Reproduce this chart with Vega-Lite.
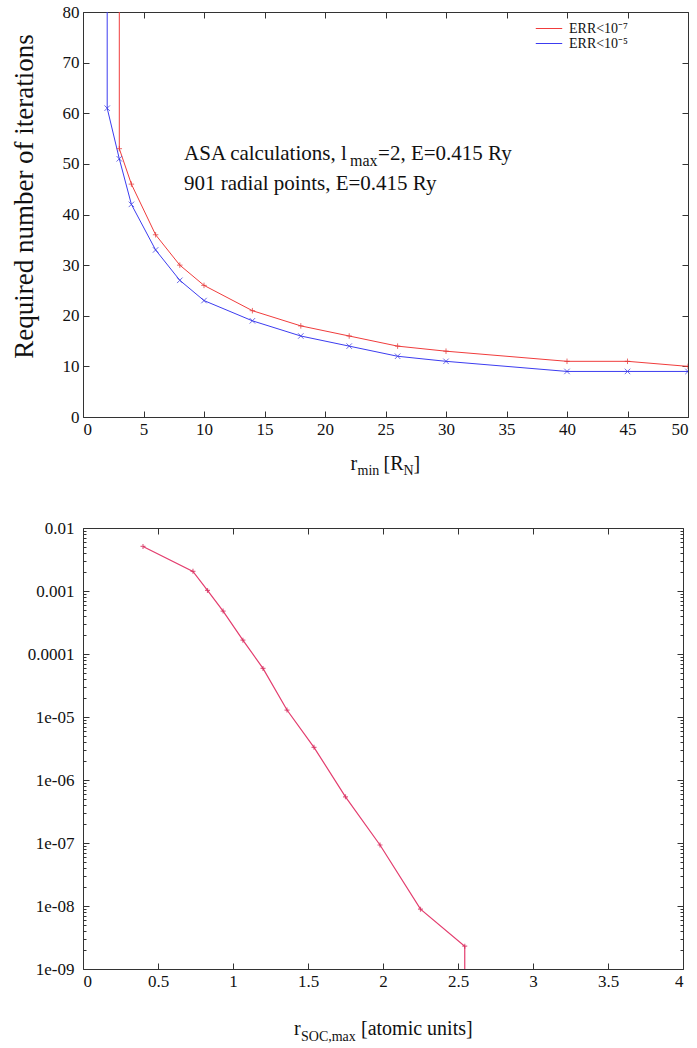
{
  "$schema": "https://vega.github.io/schema/vega-lite/v6.json",
  "background": "white",
  "padding": {"left": 9, "top": 2, "right": 0, "bottom": 0},
  "bounds": "flush",
  "spacing": 111,
  "config": {
    "font": "Liberation Serif",
    "view": {"stroke": "#333333", "strokeWidth": 1},
    "axis": {
      "domain": false,
      "grid": false,
      "labelFont": "Liberation Serif",
      "labelFontSize": 17,
      "labelColor": "#111111",
      "tickColor": "#333333",
      "tickSize": -6,
      "labelPadding": 10,
      "titleFont": "Liberation Serif",
      "titleFontWeight": "normal",
      "titleColor": "#111111"
    },
    "text": {"font": "Liberation Serif", "color": "#111111"}
  },
  "datasets": {
    "iter": [
      {"series": "ERR<10⁻⁷", "rmin": 3, "iterations": 100},
      {"series": "ERR<10⁻⁷", "rmin": 3, "iterations": 53},
      {"series": "ERR<10⁻⁷", "rmin": 4, "iterations": 46},
      {"series": "ERR<10⁻⁷", "rmin": 6, "iterations": 36},
      {"series": "ERR<10⁻⁷", "rmin": 8, "iterations": 30},
      {"series": "ERR<10⁻⁷", "rmin": 10, "iterations": 26},
      {"series": "ERR<10⁻⁷", "rmin": 14, "iterations": 21},
      {"series": "ERR<10⁻⁷", "rmin": 18, "iterations": 18},
      {"series": "ERR<10⁻⁷", "rmin": 22, "iterations": 16},
      {"series": "ERR<10⁻⁷", "rmin": 26, "iterations": 14},
      {"series": "ERR<10⁻⁷", "rmin": 30, "iterations": 13},
      {"series": "ERR<10⁻⁷", "rmin": 40, "iterations": 11},
      {"series": "ERR<10⁻⁷", "rmin": 45, "iterations": 11},
      {"series": "ERR<10⁻⁷", "rmin": 50, "iterations": 10},
      {"series": "ERR<10⁻⁵", "rmin": 2, "iterations": 100},
      {"series": "ERR<10⁻⁵", "rmin": 2, "iterations": 61},
      {"series": "ERR<10⁻⁵", "rmin": 3, "iterations": 51},
      {"series": "ERR<10⁻⁵", "rmin": 4, "iterations": 42},
      {"series": "ERR<10⁻⁵", "rmin": 6, "iterations": 33},
      {"series": "ERR<10⁻⁵", "rmin": 8, "iterations": 27},
      {"series": "ERR<10⁻⁵", "rmin": 10, "iterations": 23},
      {"series": "ERR<10⁻⁵", "rmin": 14, "iterations": 19},
      {"series": "ERR<10⁻⁵", "rmin": 18, "iterations": 16},
      {"series": "ERR<10⁻⁵", "rmin": 22, "iterations": 14},
      {"series": "ERR<10⁻⁵", "rmin": 26, "iterations": 12},
      {"series": "ERR<10⁻⁵", "rmin": 30, "iterations": 11},
      {"series": "ERR<10⁻⁵", "rmin": 40, "iterations": 9},
      {"series": "ERR<10⁻⁵", "rmin": 45, "iterations": 9},
      {"series": "ERR<10⁻⁵", "rmin": 50, "iterations": 9}
    ],
    "soc": [
      {"rsoc": 0.40, "err": 0.0051},
      {"rsoc": 0.733, "err": 0.00205},
      {"rsoc": 0.83, "err": 0.00102},
      {"rsoc": 0.934, "err": 0.00048},
      {"rsoc": 1.066, "err": 0.000166},
      {"rsoc": 1.2, "err": 0.000059},
      {"rsoc": 1.36, "err": 0.0000129},
      {"rsoc": 1.54, "err": 0.0000033},
      {"rsoc": 1.75, "err": 0.00000054},
      {"rsoc": 1.98, "err": 0.000000093},
      {"rsoc": 2.25, "err": 0.0000000089},
      {"rsoc": 2.545, "err": 0.0000000023},
      {"rsoc": 2.545, "err": 0.00000000001}
    ]
  },
  "vconcat": [
    {
      "width": 605,
      "height": 405,
      "resolve": {"axis": {"x": "independent", "y": "independent"}},
      "layer": [
        {
          "data": {"name": "iter"},
          "mark": {"type": "line", "clip": true, "strokeWidth": 1},
          "encoding": {
            "x": {"field": "rmin", "type": "quantitative", "scale": {"domain": [0, 50]},
                  "axis": {"values": [0, 5, 10, 15, 20, 25, 30, 35, 40, 45, 50], "title": null}},
            "y": {"field": "iterations", "type": "quantitative", "scale": {"domain": [0, 80]},
                  "axis": {"values": [0, 10, 20, 30, 40, 50, 60, 70, 80], "title": "Required number of iterations",
                           "titleFontSize": 27, "titleX": -59, "titleY": 184, "titleBaseline": "middle", "titleAngle": -90}},
            "color": {"field": "series", "type": "nominal",
                      "scale": {"domain": ["ERR<10⁻⁷", "ERR<10⁻⁵"], "range": ["#f03c3c", "#3c3cf0"]},
                      "legend": {"orient": "none", "legendX": 452, "legendY": 9, "title": null, "labelFont": "Liberation Serif", "labelFontSize": 14,
                                 "symbolType": "stroke", "symbolSize": 700, "symbolStrokeWidth": 1, "clipHeight": 15,
                                 "rowPadding": 0, "padding": 0, "labelOffset": 6, "labelColor": "#111111"}},
            "order": [{"field": "rmin", "sort": "ascending"}, {"field": "iterations", "sort": "descending"}]
          }
        },
        {
          "data": {"name": "iter"},
          "transform": [{"filter": "datum.series === 'ERR<10⁻⁷'"}],
          "mark": {"type": "point", "filled": false, "size": 30, "strokeWidth": 1, "clip": true, "color": "#e03030", "shape": "M-1,0L1,0M0,-1L0,1"},
          "encoding": {
            "x": {"field": "rmin", "type": "quantitative", "axis": null},
            "y": {"field": "iterations", "type": "quantitative", "axis": null}
          }
        },
        {
          "data": {"name": "iter"},
          "transform": [{"filter": "datum.series === 'ERR<10⁻⁵'"}],
          "mark": {"type": "point", "filled": false, "size": 30, "strokeWidth": 1, "clip": true, "color": "#3030e0", "shape": "M-1,-1L1,1M-1,1L1,-1"},
          "encoding": {
            "x": {"field": "rmin", "type": "quantitative", "axis": null},
            "y": {"field": "iterations", "type": "quantitative", "axis": null}
          }
        },
        {
          "data": {"name": "iter"},
          "mark": {"type": "point", "opacity": 0, "clip": true},
          "encoding": {
            "x": {"field": "rmin", "type": "quantitative",
                  "axis": {"orient": "top", "labels": false, "title": null, "values": [0, 5, 10, 15, 20, 25, 30, 35, 40, 45, 50]}},
            "y": {"field": "iterations", "type": "quantitative",
                  "axis": {"orient": "right", "labels": false, "title": null, "values": [0, 10, 20, 30, 40, 50, 60, 70, 80]}}
          }
        },
        {
          "data": {"values": [{"t": "ASA calculations, l"}]},
          "mark": {"type": "text", "align": "left", "baseline": "alphabetic", "fontSize": 21},
          "encoding": {"x": {"datum": 8.35, "axis": null}, "y": {"datum": 50.8, "axis": null}, "text": {"field": "t"}}
        },
        {
          "data": {"values": [{"t": "max"}]},
          "mark": {"type": "text", "align": "left", "baseline": "alphabetic", "fontSize": 16, "dx": 166, "dy": 6},
          "encoding": {"x": {"datum": 8.35, "axis": null}, "y": {"datum": 50.8, "axis": null}, "text": {"field": "t"}}
        },
        {
          "data": {"values": [{"t": "=2, E=0.415 Ry"}]},
          "mark": {"type": "text", "align": "left", "baseline": "alphabetic", "fontSize": 21, "dx": 194},
          "encoding": {"x": {"datum": 8.35, "axis": null}, "y": {"datum": 50.8, "axis": null}, "text": {"field": "t"}}
        },
        {
          "data": {"values": [{"t": "901 radial points, E=0.415 Ry"}]},
          "mark": {"type": "text", "align": "left", "baseline": "alphabetic", "fontSize": 21},
          "encoding": {"x": {"datum": 8.35, "axis": null}, "y": {"datum": 44.8, "axis": null}, "text": {"field": "t"}}
        },
        {
          "data": {"values": [{"t": "r"}]},
          "mark": {"type": "text", "align": "left", "baseline": "alphabetic", "fontSize": 20, "dx": -35},
          "encoding": {"x": {"datum": 25, "axis": null}, "y": {"datum": -10.5, "axis": null}, "text": {"field": "t"}}
        },
        {
          "data": {"values": [{"t": "min"}]},
          "mark": {"type": "text", "align": "left", "baseline": "alphabetic", "fontSize": 14, "dx": -28, "dy": 5},
          "encoding": {"x": {"datum": 25, "axis": null}, "y": {"datum": -10.5, "axis": null}, "text": {"field": "t"}}
        },
        {
          "data": {"values": [{"t": "[R"}]},
          "mark": {"type": "text", "align": "left", "baseline": "alphabetic", "fontSize": 20, "dx": -2},
          "encoding": {"x": {"datum": 25, "axis": null}, "y": {"datum": -10.5, "axis": null}, "text": {"field": "t"}}
        },
        {
          "data": {"values": [{"t": "N"}]},
          "mark": {"type": "text", "align": "left", "baseline": "alphabetic", "fontSize": 14, "dx": 18, "dy": 5},
          "encoding": {"x": {"datum": 25, "axis": null}, "y": {"datum": -10.5, "axis": null}, "text": {"field": "t"}}
        },
        {
          "data": {"values": [{"t": "]"}]},
          "mark": {"type": "text", "align": "left", "baseline": "alphabetic", "fontSize": 20, "dx": 28},
          "encoding": {"x": {"datum": 25, "axis": null}, "y": {"datum": -10.5, "axis": null}, "text": {"field": "t"}}
        }
      ]
    },
    {
      "width": 600,
      "height": 441,
      "resolve": {"axis": {"x": "independent", "y": "independent"}},
      "layer": [
        {
          "data": {"name": "soc"},
          "mark": {"type": "line", "clip": true, "strokeWidth": 1.2, "color": "#e33d6e"},
          "encoding": {
            "x": {"field": "rsoc", "type": "quantitative", "scale": {"domain": [0, 4]},
                  "axis": {"values": [0, 0.5, 1, 1.5, 2, 2.5, 3, 3.5, 4], "format": "~g", "title": null}},
            "y": {"field": "err", "type": "quantitative", "scale": {"type": "log", "domain": [1e-9, 0.01]},
                  "axis": {"values": [1e-9, 1e-8, 1e-7, 1e-6, 1e-5, 0.0001, 0.001, 0.01], "title": null, "labelPadding": 15,
                           "labelExpr": "datum.value > 0.00005 ? toString(round(datum.value * 1000000) / 1000000) : '1e-0' + toString(round(-log(datum.value) / LN10))"}},
            "order": [{"field": "rsoc", "sort": "ascending"}, {"field": "err", "sort": "descending"}]
          }
        },
        {
          "data": {"name": "soc"},
          "mark": {"type": "point", "filled": false, "size": 25, "strokeWidth": 1.2, "color": "#d42a5a", "clip": true, "shape": "M-1,0L1,0M0,-1L0,1"},
          "encoding": {
            "x": {"field": "rsoc", "type": "quantitative", "axis": null},
            "y": {"field": "err", "type": "quantitative", "axis": null}
          }
        },
        {
          "data": {"name": "soc"},
          "mark": {"type": "point", "opacity": 0, "clip": true},
          "encoding": {
            "x": {"field": "rsoc", "type": "quantitative",
                  "axis": {"orient": "top", "labels": false, "title": null, "values": [0, 0.5, 1, 1.5, 2, 2.5, 3, 3.5, 4]}},
            "y": {"field": "err", "type": "quantitative",
                  "axis": {"orient": "right", "labels": false, "title": null, "values": [1e-9, 1e-8, 1e-7, 1e-6, 1e-5, 0.0001, 0.001, 0.01]}}
          }
        },
        {
          "data": {"name": "soc"},
          "mark": {"type": "point", "opacity": 0, "clip": true},
          "encoding": {
            "x": {"field": "rsoc", "type": "quantitative", "axis": null},
            "y": {"field": "err", "type": "quantitative",
                  "axis": {"orient": "left", "labels": false, "title": null, "tickSize": -3,
                           "values": [2e-9, 3e-9, 4e-9, 5e-9, 6e-9, 7e-9, 8e-9, 9e-9, 2e-8, 3e-8, 4e-8, 5e-8, 6e-8, 7e-8, 8e-8, 9e-8, 2e-7, 3e-7, 4e-7, 5e-7, 6e-7, 7e-7, 8e-7, 9e-7, 2e-6, 3e-6, 4e-6, 5e-6, 6e-6, 7e-6, 8e-6, 9e-6, 2e-5, 3e-5, 4e-5, 5e-5, 6e-5, 7e-5, 8e-5, 9e-5, 0.0002, 0.0003, 0.0004, 0.0005, 0.0006, 0.0007, 0.0008, 0.0009, 0.002, 0.003, 0.004, 0.005, 0.006, 0.007, 0.008, 0.009]}}
          }
        },
        {
          "data": {"name": "soc"},
          "mark": {"type": "point", "opacity": 0, "clip": true},
          "encoding": {
            "x": {"field": "rsoc", "type": "quantitative", "axis": null},
            "y": {"field": "err", "type": "quantitative",
                  "axis": {"orient": "right", "labels": false, "title": null, "tickSize": -3,
                           "values": [2e-9, 3e-9, 4e-9, 5e-9, 6e-9, 7e-9, 8e-9, 9e-9, 2e-8, 3e-8, 4e-8, 5e-8, 6e-8, 7e-8, 8e-8, 9e-8, 2e-7, 3e-7, 4e-7, 5e-7, 6e-7, 7e-7, 8e-7, 9e-7, 2e-6, 3e-6, 4e-6, 5e-6, 6e-6, 7e-6, 8e-6, 9e-6, 2e-5, 3e-5, 4e-5, 5e-5, 6e-5, 7e-5, 8e-5, 9e-5, 0.0002, 0.0003, 0.0004, 0.0005, 0.0006, 0.0007, 0.0008, 0.0009, 0.002, 0.003, 0.004, 0.005, 0.006, 0.007, 0.008, 0.009]}}
          }
        },
        {
          "data": {"values": [{"t": "r"}]},
          "mark": {"type": "text", "align": "left", "baseline": "alphabetic", "fontSize": 20, "dx": -89},
          "encoding": {"x": {"datum": 2, "axis": null}, "y": {"datum": 9e-11, "axis": null}, "text": {"field": "t"}}
        },
        {
          "data": {"values": [{"t": "SOC,max"}]},
          "mark": {"type": "text", "align": "left", "baseline": "alphabetic", "fontSize": 14, "dx": -82, "dy": 6},
          "encoding": {"x": {"datum": 2, "axis": null}, "y": {"datum": 9e-11, "axis": null}, "text": {"field": "t"}}
        },
        {
          "data": {"values": [{"t": "[atomic units]"}]},
          "mark": {"type": "text", "align": "left", "baseline": "alphabetic", "fontSize": 20, "dx": -22},
          "encoding": {"x": {"datum": 2, "axis": null}, "y": {"datum": 9e-11, "axis": null}, "text": {"field": "t"}}
        }
      ]
    }
  ]
}
